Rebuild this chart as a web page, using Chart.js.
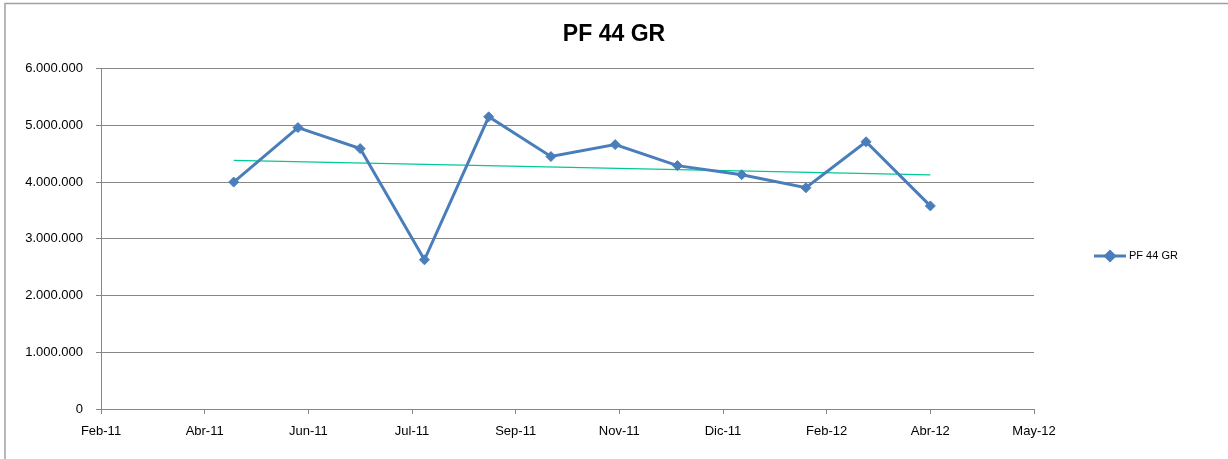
<!DOCTYPE html>
<html>
<head>
<meta charset="utf-8">
<script src="https://cdn.jsdelivr.net/npm/chart.js@4.4.1/dist/chart.umd.min.js"></script>
<style>
  html, body { margin: 0; padding: 0; background: #ffffff; }
  #wrap { width: 1228px; height: 459px; position: relative; }
</style>
</head>
<body>
<div id="wrap"><canvas id="chart"></canvas></div>
<script>
// monthly readings, first day of each month
const months = ["2011-05-01", "2011-06-01", "2011-07-01", "2011-08-01", "2011-09-01", "2011-10-01",
                "2011-11-01", "2011-12-01", "2012-01-01", "2012-02-01", "2012-03-01", "2012-04-01"];
const values = [4000000, 4960000, 4590000, 2630000, 5150000, 4450000,
                4660000, 4290000, 4130000, 3900000, 4710000, 3580000];
const seriesName = "PF 44 GR";
// date axis ticks (Excel serial days, every 50 days from 26-Feb-2011)
const xTickLabels = ["Feb-11", "Abr-11", "Jun-11", "Jul-11", "Sep-11", "Nov-11", "Dic-11", "Feb-12", "Abr-12", "May-12"];
const xMin = 40600, xStep = 50;

const blue = "#4a7ebb";
const gridGray = "#868686";
const fontFamily = "'Liberation Sans', Arial, sans-serif";

// Excel serial date for a yyyy-mm-dd string
function toSerial(s) {
    const p = s.split("-").map(Number);
    return Math.round((Date.UTC(p[0], p[1] - 1, p[2]) - Date.UTC(1899, 11, 30)) / 86400000);
}

const points = months.map((m, i) => ({ x: toSerial(m), y: values[i] }));

// linear trendline (least squares)
const n = points.length;
const mx = points.reduce((a, p) => a + p.x, 0) / n;
const my = points.reduce((a, p) => a + p.y, 0) / n;
let sxy = 0, sxx = 0;
points.forEach(p => { sxy += (p.x - mx) * (p.y - my); sxx += (p.x - mx) * (p.x - mx); });
const slope = sxy / sxx;
const trendAt = x => my + slope * (x - mx);
const trend = [points[0].x, points[n - 1].x].map(x => ({ x: x, y: trendAt(x) }));

function dots(v) {
    return String(v).replace(/\B(?=(\d{3})+(?!\d))/g, ".");
}

const frameAndLegend = {
    id: "frameAndLegend",
    afterDraw(chart) {
        const ctx = chart.ctx;
        ctx.save();
        // outer chart frame (top / left)
        ctx.strokeStyle = "#a0a0a0";
        ctx.lineWidth = 1.5;
        ctx.beginPath();
        ctx.moveTo(5, 1300);
        ctx.lineTo(5, 3.5);
        ctx.lineTo(1300, 3.5);
        ctx.stroke();

        // legend entry, drawn in the space kept by the right-hand spacer axis
        const ly = 256;
        ctx.strokeStyle = blue;
        ctx.lineWidth = 3;
        ctx.beginPath();
        ctx.moveTo(1094, ly);
        ctx.lineTo(1126, ly);
        ctx.stroke();
        ctx.fillStyle = blue;
        Chart.helpers.drawPoint(ctx, { pointStyle: "rectRot", radius: 4.5, borderWidth: 1 }, 1110, ly);
        ctx.fill();
        ctx.fillStyle = "#000000";
        ctx.font = "11px " + fontFamily;
        ctx.textBaseline = "middle";
        ctx.textAlign = "left";
        ctx.fillText(seriesName, 1129, ly);
        ctx.restore();
    }
};

new Chart(document.getElementById("chart"), {
    type: "line",
    data: {
        datasets: [
            {
                label: seriesName,
                data: points,
                borderColor: blue,
                backgroundColor: blue,
                borderWidth: 3,
                pointStyle: "rectRot",
                pointRadius: 5,
                pointBorderWidth: 1,
                pointBackgroundColor: blue,
                pointBorderColor: blue,
                tension: 0,
            },
            {
                label: "Lineal (" + seriesName + ")",
                data: trend,
                borderColor: "#00c896",
                borderWidth: 1.2,
                pointRadius: 0,
                tension: 0,
            },
        ],
    },
    options: {
        responsive: true,
        maintainAspectRatio: false,
        animation: false,
        layout: { padding: 0 },
        plugins: {
            legend: { display: false },
            tooltip: { enabled: false },
            title: {
                display: true,
                text: seriesName,
                color: "#000000",
                font: { family: fontFamily, size: 23, weight: "bold", lineHeight: 1.2 },
                padding: { top: 21, bottom: 20 },
            },
        },
        scales: {
            x: {
                type: "linear",
                min: xMin,
                max: xMin + xStep * (xTickLabels.length - 1),
                afterFit: s => { s.height = 50; },
                afterBuildTicks: s => {
                    s.ticks = xTickLabels.map((t, i) => ({ value: xMin + xStep * i }));
                },
                ticks: {
                    autoSkip: false,
                    maxRotation: 0,
                    padding: 10,
                    color: "#000000",
                    font: { family: fontFamily, size: 13 },
                    callback: (v) => xTickLabels[Math.round((v - xMin) / xStep)],
                },
                grid: { drawOnChartArea: false, drawTicks: true, tickLength: 5, color: gridGray },
                border: { display: true, color: gridGray },
            },
            y: {
                min: 0,
                max: 6000000,
                afterFit: s => { s.width = 101; },
                ticks: {
                    stepSize: 1000000,
                    padding: 13,
                    color: "#000000",
                    font: { family: fontFamily, size: 13 },
                    callback: v => dots(v),
                },
                grid: { color: gridGray, tickLength: 5 },
                border: { display: true, color: gridGray },
            },
            // empty axis on the right: keeps room for the legend
            spacer: {
                type: "linear",
                position: "right",
                min: 0,
                max: 1,
                afterFit: s => { s.width = 194; },
                ticks: { display: false },
                grid: { display: false },
                border: { display: false },
            },
        },
    },
    plugins: [frameAndLegend],
});
</script>
</body>
</html>
